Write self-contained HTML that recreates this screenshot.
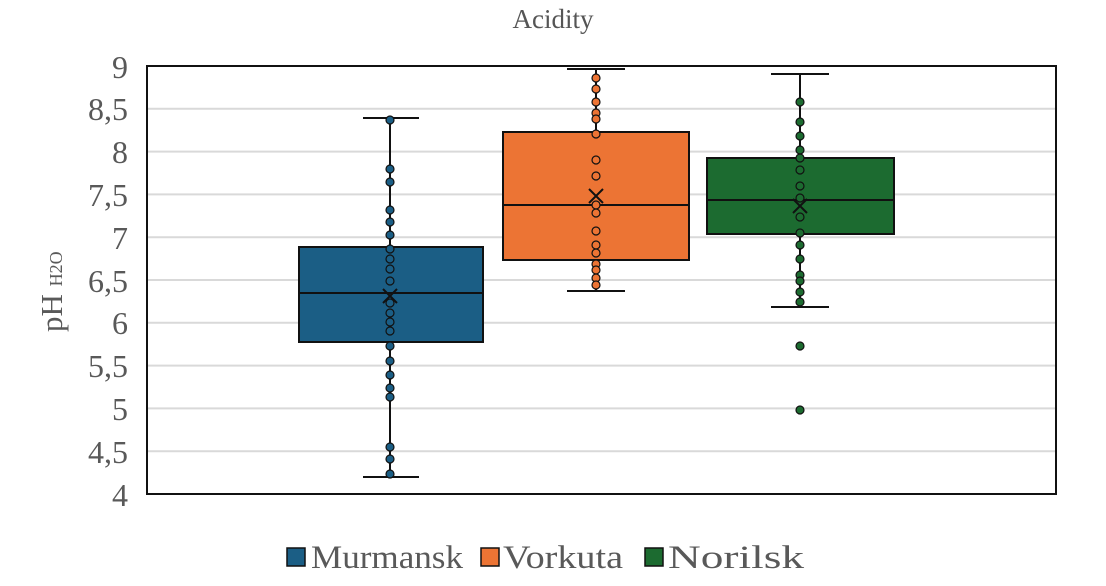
<!DOCTYPE html>
<html><head><meta charset="utf-8"><style>
html,body{margin:0;padding:0;background:#fff;}
svg{display:block;font-family:"Liberation Serif",serif;}
</style></head><body>
<svg width="1106" height="586" viewBox="0 0 1106 586" xmlns="http://www.w3.org/2000/svg">
<rect width="1106" height="586" fill="#fff"/>
<text x="553" y="28" font-size="27" fill="#555" text-anchor="middle">Acidity</text>
<g stroke="#d9d9d9" stroke-width="2">
<line x1="147" x2="1056" y1="108.8" y2="108.8"/>
<line x1="147" x2="1056" y1="151.6" y2="151.6"/>
<line x1="147" x2="1056" y1="194.4" y2="194.4"/>
<line x1="147" x2="1056" y1="237.2" y2="237.2"/>
<line x1="147" x2="1056" y1="280" y2="280"/>
<line x1="147" x2="1056" y1="322.8" y2="322.8"/>
<line x1="147" x2="1056" y1="365.6" y2="365.6"/>
<line x1="147" x2="1056" y1="408.4" y2="408.4"/>
<line x1="147" x2="1056" y1="451.2" y2="451.2"/>
</g>
<g font-size="32" fill="#595959" text-anchor="end">
<text x="128" y="78">9</text><text x="128" y="120">8,5</text><text x="128" y="163">8</text>
<text x="128" y="206">7,5</text><text x="128" y="249">7</text><text x="128" y="292">6,5</text>
<text x="128" y="334">6</text><text x="128" y="377">5,5</text><text x="128" y="420">5</text>
<text x="128" y="463">4,5</text><text x="128" y="506">4</text>
</g>
<text transform="translate(62,332) rotate(-90)" font-size="31" fill="#595959">pH <tspan font-size="18">H2O</tspan></text>
<!-- Murmansk -->
<g stroke="#111" stroke-width="2">
<line x1="390" x2="390" y1="118" y2="477"/>
<line x1="363" x2="419" y1="118" y2="118"/>
<line x1="363" x2="419" y1="477" y2="477"/>
<rect x="299" y="247" width="184" height="95" fill="#1b5e85"/>
<line x1="299" x2="483" y1="293" y2="293"/>
</g>
<g fill="#1b5e85" stroke="#111" stroke-width="1.2">
<circle cx="390" cy="120" r="4"/><circle cx="390" cy="169" r="4"/><circle cx="390" cy="182" r="4"/><circle cx="390" cy="210" r="4"/><circle cx="390" cy="222" r="4"/><circle cx="390" cy="235" r="4"/><circle cx="390" cy="249" r="4"/><circle cx="390" cy="259" r="4"/><circle cx="390" cy="269" r="4"/><circle cx="390" cy="281" r="4"/><circle cx="390" cy="303" r="4"/><circle cx="390" cy="313" r="4"/><circle cx="390" cy="322" r="4"/><circle cx="390" cy="331" r="4"/><circle cx="390" cy="346" r="4"/><circle cx="390" cy="361" r="4"/><circle cx="390" cy="375" r="4"/><circle cx="390" cy="388" r="4"/><circle cx="390" cy="397" r="4"/><circle cx="390" cy="447" r="4"/><circle cx="390" cy="459" r="4"/><circle cx="390" cy="474" r="4"/>
</g>
<path d="M383 289l14 14M397 289l-14 14" stroke="#111" stroke-width="2"/>
<!-- Vorkuta -->
<g stroke="#111" stroke-width="2">
<line x1="596" x2="596" y1="69" y2="291"/>
<line x1="567" x2="625" y1="69" y2="69"/>
<line x1="567" x2="625" y1="291" y2="291"/>
<rect x="503" y="132" width="186" height="128" fill="#ec7434"/>
<line x1="503" x2="689" y1="205" y2="205"/>
</g>
<g fill="#ec7434" stroke="#111" stroke-width="1.2">
<circle cx="596" cy="78" r="4"/><circle cx="596" cy="89" r="4"/><circle cx="596" cy="102" r="4"/><circle cx="596" cy="113" r="4"/><circle cx="596" cy="119" r="4"/><circle cx="596" cy="134" r="4"/><circle cx="596" cy="160" r="4"/><circle cx="596" cy="176" r="4"/><circle cx="596" cy="205" r="4"/><circle cx="596" cy="213" r="4"/><circle cx="596" cy="231" r="4"/><circle cx="596" cy="245" r="4"/><circle cx="596" cy="253" r="4"/><circle cx="596" cy="264" r="4"/><circle cx="596" cy="270" r="4"/><circle cx="596" cy="278" r="4"/><circle cx="596" cy="285" r="4"/>
</g>
<path d="M589 189l14 14M603 189l-14 14" stroke="#111" stroke-width="2"/>
<!-- Norilsk -->
<g stroke="#111" stroke-width="2">
<line x1="800" x2="800" y1="74" y2="307"/>
<line x1="771" x2="829" y1="74" y2="74"/>
<line x1="771" x2="829" y1="307" y2="307"/>
<rect x="707" y="158" width="187" height="76" fill="#1c6b30"/>
<line x1="707" x2="894" y1="200" y2="200"/>
</g>
<g fill="#1c6b30" stroke="#111" stroke-width="1.2">
<circle cx="800" cy="102" r="4"/><circle cx="800" cy="122" r="4"/><circle cx="800" cy="136" r="4"/><circle cx="800" cy="150" r="4"/><circle cx="800" cy="158" r="4"/><circle cx="800" cy="170" r="4"/><circle cx="800" cy="186" r="4"/><circle cx="800" cy="198" r="4"/><circle cx="800" cy="217" r="4"/><circle cx="800" cy="233" r="4"/><circle cx="800" cy="245" r="4"/><circle cx="800" cy="259" r="4"/><circle cx="800" cy="275" r="4"/><circle cx="800" cy="281" r="4"/><circle cx="800" cy="292" r="4"/><circle cx="800" cy="302" r="4"/><circle cx="800" cy="346" r="4"/><circle cx="800" cy="410" r="4"/>
</g>
<path d="M793 199l14 14M807 199l-14 14" stroke="#111" stroke-width="2"/>
<rect x="147" y="66" width="909" height="428" fill="none" stroke="#111" stroke-width="2"/>
<!-- legend -->
<g stroke="#111" stroke-width="1.5">
<rect x="287" y="548" width="18" height="18" fill="#1b5e85"/>
<rect x="481" y="548" width="18" height="18" fill="#ec7434"/>
<rect x="645" y="548" width="18" height="18" fill="#1c6b30"/>
</g>
<g font-size="33" fill="#595959">
<text x="311" y="568" textLength="152" lengthAdjust="spacingAndGlyphs">Murmansk</text>
<text x="503" y="568" textLength="120" lengthAdjust="spacingAndGlyphs">Vorkuta</text>
<text x="668" y="568" textLength="136" lengthAdjust="spacingAndGlyphs">Norilsk</text>
</g>
</svg>
</body></html>
